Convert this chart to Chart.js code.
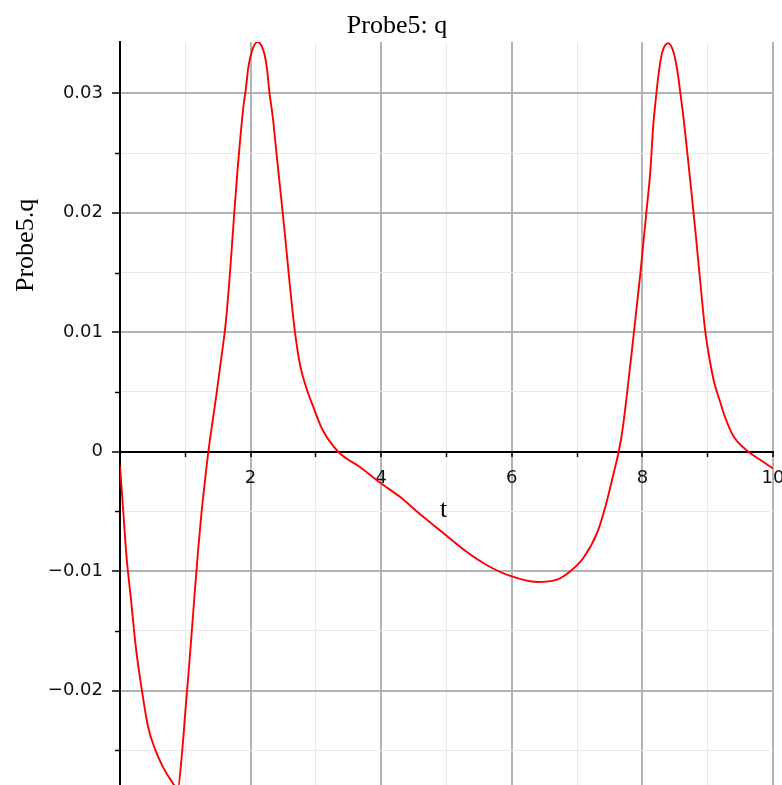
<!DOCTYPE html>
<html>
<head>
<meta charset="utf-8">
<title>Probe5: q</title>
<script src="https://cdn.jsdelivr.net/npm/chart.js@4.4.1/dist/chart.umd.min.js"></script>
<style>
  html, body { margin: 0; padding: 0; background: #ffffff; }
  #wrap { width: 782px; height: 785px; }
</style>
</head>
<body>
<div id="wrap"><canvas id="plot" width="782" height="785"></canvas></div>
<script>
// Sampled response of Probe5.q over time t
const tValues = [
  0.00, 0.05, 0.10, 0.169, 0.241, 0.333, 0.429, 0.536, 0.659, 0.792,
  0.885, 0.95, 1.00, 1.05, 1.10, 1.15, 1.20, 1.25, 1.30, 1.353,
  1.43, 1.48, 1.55, 1.62, 1.69, 1.75, 1.80, 1.843, 1.89, 1.926,
  1.966, 2.018, 2.104, 2.196, 2.248, 2.288, 2.34, 2.402, 2.45, 2.52,
  2.60, 2.68, 2.76, 2.85, 2.943, 3.096, 3.341, 3.678, 3.985, 4.291,
  4.547, 4.95, 5.313, 5.62, 5.977, 6.386, 6.693, 6.897, 7.096, 7.306,
  7.433, 7.56, 7.637, 7.689, 7.755, 7.87, 7.97, 8.06, 8.123, 8.164,
  8.199, 8.25, 8.302, 8.394, 8.48, 8.541, 8.582, 8.633, 8.694, 8.75,
  8.82, 8.89, 8.96, 9.03, 9.10, 9.195, 9.272, 9.395, 9.625, 9.808,
  10.0
];
const qValues = [
  -0.0012, -0.0050, -0.0088, -0.0124, -0.0163, -0.0199, -0.0230, -0.0249, -0.0264, -0.0276,
  -0.0282, -0.0252, -0.0218, -0.0185, -0.0150, -0.0114, -0.0080, -0.0050, -0.0025, 0.0000,
  0.0030, 0.0049, 0.0078, 0.0108, 0.0154, 0.0200, 0.0236, 0.0263, 0.0289, 0.0303,
  0.0322, 0.0335, 0.0343, 0.0336, 0.0322, 0.0301, 0.0280, 0.0247, 0.0222, 0.0185,
  0.0140, 0.0100, 0.0072, 0.0054, 0.0040, 0.0019, 0.0000, -0.0013, -0.0026, -0.0038,
  -0.0050, -0.0068, -0.0084, -0.0095, -0.0104, -0.0109, -0.0107, -0.0100, -0.0089, -0.0068,
  -0.0046, -0.0018, 0.0000, 0.0016, 0.0044, 0.0100, 0.0150, 0.0200, 0.0236, 0.0272,
  0.0292, 0.0317, 0.0334, 0.0342, 0.0334, 0.0317, 0.0300, 0.0278, 0.0247, 0.0218,
  0.0180, 0.0140, 0.0102, 0.0077, 0.0058, 0.0041, 0.0028, 0.0013, 0.0000, -0.0007,
  -0.0014
];

// Axis ranges and labelled ticks
const tRange = [0, 10];
const qRange = [-0.0279, 0.0343];
const tLabelValues = [2, 4, 6, 8, 10];
const tLabelTexts = ['2', '4', '6', '8', '10'];
const qLabelValues = [-0.02, -0.01, 0, 0.01, 0.02, 0.03];
const qLabelTexts = ['\u22120.02', '\u22120.01', '0', '0.01', '0.02', '0.03'];

const plotTitle = 'Probe5: q';
const tTitle = 't';
const qTitle = 'Probe5.q';

const points = tValues.map((t, i) => ({ x: t, y: qValues[i] }));

const MAJOR_GRID = '#b3b3b3';
const MINOR_GRID = '#ece8ec';
const TICK_FONT = { family: '"DejaVu Sans", sans-serif', size: 18 };
const SERIF = '26px "Liberation Serif", "Times New Roman", serif';

const near = (a, b) => Math.abs(a - b) < 1e-7;
const isMajorQ = v => Math.abs(v / 0.01 - Math.round(v / 0.01)) < 1e-6;

// Short tick marks for the half-step values on the q axis, plus the text labels
const decorations = {
  id: 'decorations',
  afterDraw(chart) {
    const { ctx, chartArea } = chart;
    const yScale = chart.scales.y;
    ctx.save();
    ctx.strokeStyle = '#000';
    ctx.lineWidth = 1.5;
    yScale.ticks.forEach(tk => {
      if (!isMajorQ(tk.value)) {
        const py = Math.round(yScale.getPixelForValue(tk.value)) + 0.5;
        ctx.beginPath();
        ctx.moveTo(chartArea.left - 5, py);
        ctx.lineTo(chartArea.left, py);
        ctx.stroke();
      }
    });

    ctx.fillStyle = '#000';
    ctx.font = SERIF;
    ctx.textBaseline = 'alphabetic';
    ctx.textAlign = 'center';
    ctx.fillText(plotTitle, 397, 33);
    ctx.fillText(tTitle, (chartArea.left + chartArea.right) / 2 - 3, 517);

    ctx.translate(33, 292);
    ctx.rotate(-Math.PI / 2);
    ctx.textAlign = 'left';
    ctx.fillText(qTitle, 0, 0);
    ctx.restore();
  }
};

new Chart(document.getElementById('plot'), {
  type: 'scatter',
  data: {
    datasets: [{
      data: points,
      showLine: true,
      borderColor: '#ff0000',
      borderWidth: 1.9,
      pointRadius: 0,
      pointHoverRadius: 0,
      cubicInterpolationMode: 'monotone',
      fill: false
    }]
  },
  options: {
    responsive: false,
    animation: false,
    devicePixelRatio: 1,
    layout: { padding: { top: 42, right: 9, left: 0, bottom: 0 } },
    plugins: {
      legend: { display: false },
      title: { display: false },
      tooltip: { enabled: false }
    },
    scales: {
      x: {
        type: 'linear',
        position: { y: 0 },
        min: tRange[0],
        max: tRange[1],
        afterFit: s => { s.height = 0; s.paddingLeft = 0; s.paddingRight = 0; },
        border: { display: true, color: '#000', width: 2 },
        grid: {
          drawTicks: true,
          tickLength: 4,
          tickWidth: 1.5,
          tickColor: '#000',
          color: c => {
            const v = c.tick ? c.tick.value : 0;
            if (near(v, 0)) return 'rgba(0,0,0,0)';
            return (Math.round(v) % 2 === 0) ? MAJOR_GRID : MINOR_GRID;
          },
          lineWidth: c => {
            const v = c.tick ? c.tick.value : 0;
            return (Math.round(v) % 2 === 0) ? 2 : 1;
          }
        },
        ticks: {
          stepSize: 1,
          autoSkip: false,
          maxRotation: 0,
          includeBounds: false,
          padding: 12,
          color: '#111',
          font: TICK_FONT,
          callback: v => {
            const i = tLabelValues.findIndex(x => near(x, v));
            return i >= 0 ? tLabelTexts[i] : '';
          }
        }
      },
      y: {
        type: 'linear',
        position: 'left',
        min: qRange[0],
        max: qRange[1],
        afterFit: s => { s.width = 120; s.paddingTop = 0; s.paddingBottom = 0; },
        border: { display: true, color: '#000', width: 2 },
        grid: {
          drawTicks: true,
          tickLength: 8,
          tickWidth: 1.5,
          tickColor: c => (c.tick && isMajorQ(c.tick.value)) ? '#000' : 'rgba(0,0,0,0)',
          color: c => {
            const v = c.tick ? c.tick.value : 0;
            if (near(v, 0)) return 'rgba(0,0,0,0)';
            return isMajorQ(v) ? MAJOR_GRID : MINOR_GRID;
          },
          lineWidth: c => (c.tick && isMajorQ(c.tick.value)) ? 2 : 1
        },
        ticks: {
          stepSize: 0.005,
          autoSkip: false,
          includeBounds: false,
          padding: 9,
          color: '#111',
          font: TICK_FONT,
          callback: v => {
            const i = qLabelValues.findIndex(x => near(x, v));
            return i >= 0 ? qLabelTexts[i] : '';
          }
        }
      }
    }
  },
  plugins: [decorations]
});
</script>
</body>
</html>
